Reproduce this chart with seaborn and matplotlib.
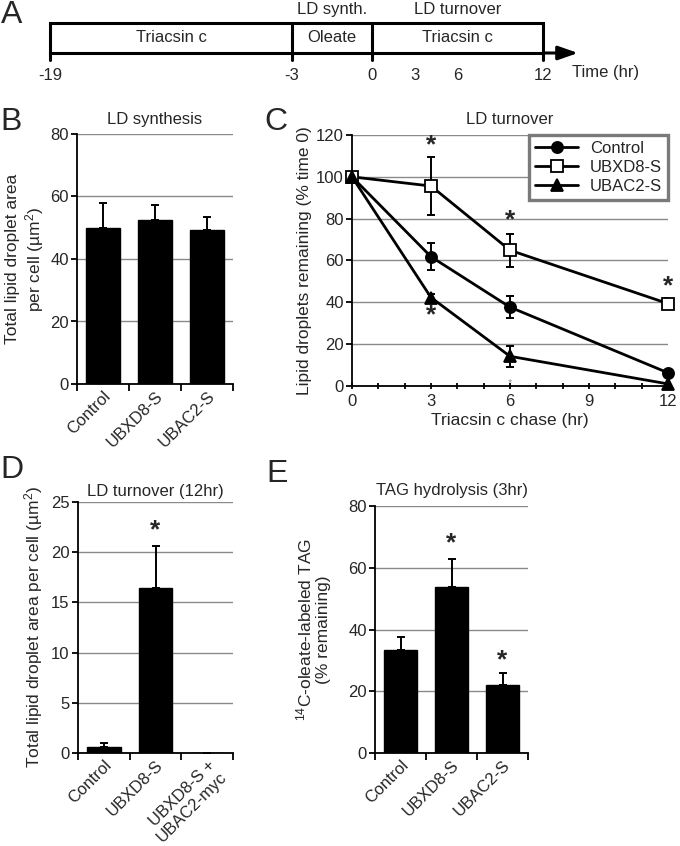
import numpy as np
import pandas as pd
import matplotlib
matplotlib.use("Agg")
import matplotlib.pyplot as plt
from matplotlib.lines import Line2D
import seaborn as sns

sns.set_theme(style="white")
plt.rcParams["font.family"] = ["Liberation Sans", "DejaVu Sans"]
plt.rcParams["mathtext.fontset"] = "custom"
plt.rcParams["mathtext.rm"] = "Liberation Sans"
plt.rcParams["mathtext.it"] = "Liberation Sans:italic"

# ---------------- data ----------------
# Panel A timeline
seg_start = [-19, -3, 0]
seg_end = [-3, 0, 12]
seg_labels = ["Triacsin c", "Oleate", "Triacsin c"]
phase_labels = ["LD synth.", "LD turnover"]
phase_start = [-3, 0]
phase_end = [0, 12]
time_ticks = [-19, -3, 0, 3, 6, 12]

# Panel B
b_groups = ["Control", "UBXD8-S", "UBAC2-S"]
b_values = [50.0, 52.5, 49.3]
b_err = [8.0, 4.8, 4.0]

# Panel C
c_time = [0, 3, 6, 12]
c_control = [100, 61.8, 37.7, 6.3]
c_control_err = [0, 6.5, 5.2, 1.0]
c_ubxd8 = [100, 95.6, 64.9, 39.4]
c_ubxd8_err = [0, 14.0, 7.8, 2.5]
c_ubac2 = [100, 42.3, 14.2, 1.0]
c_ubac2_err = [0, 1.5, 5.0, 0.5]
c_star_x = [3, 6, 12, 3]
c_star_y = [115, 79, 47.5, 34]

# Panel D
d_groups = ["Control", "UBXD8-S", "UBXD8-S +\nUBAC2-myc"]
d_values = [0.6, 16.45, 0.0]
d_err = [0.4, 4.15, 0.0]
d_star_x = [1]
d_star_y = [22.2]

# Panel E
e_groups = ["Control", "UBXD8-S", "UBAC2-S"]
e_values = [33.4, 53.9, 22.1]
e_err = [4.1, 9.0, 3.8]
e_star_x = [1, 2]
e_star_y = [68.0, 30.0]

# ---------------- layout ----------------
W, H = 680, 846
fig = plt.figure(figsize=(W / 100, H / 100), dpi=100)


def axes_px(left, top, right, bottom):
    return fig.add_axes([left / W, 1 - bottom / H, (right - left) / W, (bottom - top) / H])


FS = 12
TICK_FS = 12
LAB_FS = 12.5
LW_SPINE = 1.3
GRID_C = "#8a8a8a"
STAR_FS = 19

# ---- Panel A ----
t_anchor = [-19, -3, 0, 12, 14.46]
p_anchor = [0, 242, 322, 493, 528]


def fwd(t):
    return np.interp(t, t_anchor, p_anchor)


def inv(p):
    return np.interp(p, p_anchor, t_anchor)


axA = axes_px(50, 23, 578, 53)
axA.set_xscale("function", functions=(fwd, inv))
axA.set_xlim(-19, 14.46)
axA.set_ylim(0, 1)
for s in axA.spines.values():
    s.set_visible(False)
axA.set_yticks([])
lw_box = 2.2
axA.plot([seg_start[0], seg_end[-1]], [1, 1], color="black", lw=lw_box, clip_on=False, solid_capstyle="projecting")
axA.plot([seg_start[0], seg_end[-1]], [0, 0], color="black", lw=lw_box, clip_on=False, solid_capstyle="projecting")
bounds = sorted(set(seg_start + seg_end))
for b in bounds:
    axA.plot([b, b], [-0.25, 1], color="black", lw=lw_box, clip_on=False)
for s0, s1, lab in zip(seg_start, seg_end, seg_labels):
    xm = inv((fwd(s0) + fwd(s1)) / 2)
    axA.text(xm, 0.5, lab, ha="center", va="center", fontsize=FS)
for s0, s1, lab in zip(phase_start, phase_end, phase_labels):
    xm = inv((fwd(s0) + fwd(s1)) / 2)
    axA.text(xm, 1.45, lab, ha="center", va="center", fontsize=FS)
axA.annotate("", xy=(14.46, 0), xytext=(12, 0),
             arrowprops=dict(arrowstyle="-|>,head_length=1.0,head_width=0.35", color="black", lw=lw_box,
                             shrinkA=0, shrinkB=0), annotation_clip=False)
axA.set_xticks(time_ticks)
axA.set_xticklabels([str(t) for t in time_ticks], fontsize=FS)
axA.tick_params(axis="x", length=0, pad=11)
axA.minorticks_off()
fig.text(606 / W, 1 - 72 / H, "Time (hr)", ha="center", va="center", fontsize=FS)


def style_bar_axes(ax, ymax, ystep):
    ax.set_ylim(0, ymax)
    ax.set_yticks(np.arange(0, ymax + 0.01, ystep))
    ax.yaxis.grid(True, color=GRID_C, lw=1.0)
    ax.xaxis.grid(False)
    ax.set_axisbelow(True)
    for side in ["top", "right"]:
        ax.spines[side].set_visible(False)
    for side in ["left", "bottom"]:
        ax.spines[side].set_color("black")
        ax.spines[side].set_linewidth(LW_SPINE)
    ax.tick_params(axis="y", which="major", direction="out", length=4, width=LW_SPINE,
                   color="black", labelsize=TICK_FS, pad=2, left=True)
    ax.set_xlim(-0.5, 2.5)
    ax.set_xticks([-0.5, 0.5, 1.5, 2.5], minor=True)
    ax.tick_params(axis="x", which="minor", direction="out", length=5, width=LW_SPINE, color="black", bottom=True)
    ax.tick_params(axis="x", which="major", length=0, labelsize=FS, pad=3)
    ax.set_xlabel("")


def bar_panel(ax, groups, values, errs, ymax, ystep):
    df = pd.DataFrame({"group": groups, "value": values})
    sns.barplot(data=df, x="group", y="value", color="black", width=0.65, ax=ax,
                errorbar=None, saturation=1, edgecolor="black")
    ax.errorbar(np.arange(len(values)), values, yerr=[np.zeros(len(errs)), errs], fmt="none",
                ecolor="black", elinewidth=1.4, capsize=3, capthick=1.4, zorder=5)
    style_bar_axes(ax, ymax, ystep)
    ax.set_xticks(np.arange(len(groups)))
    ax.set_xticklabels(groups, rotation=45, ha="right", rotation_mode="anchor", fontsize=FS)


def star(ax, x, y):
    ax.text(x, y, "*", ha="center", va="center", fontsize=STAR_FS, fontweight="bold")


# ---- Panel B ----
axB = axes_px(77, 134, 233, 384)
bar_panel(axB, b_groups, b_values, b_err, 80, 20)
axB.set_title("LD synthesis", fontsize=FS, pad=7)
axB.set_ylabel("Total lipid droplet area\nper cell (µm$^2$)", fontsize=LAB_FS, labelpad=3)

# ---- Panel C ----
axC = axes_px(352, 135, 668, 386)
series = [
    ("Control", c_control, c_control_err, "o", "black", 8),
    ("UBXD8-S", c_ubxd8, c_ubxd8_err, "s", "white", 9),
    ("UBAC2-S", c_ubac2, c_ubac2_err, "^", "black", 8),
]
handles = []
for name, vals, errs, mk, mfc, ms in series:
    axC.errorbar(c_time, vals, yerr=errs, fmt="none", ecolor="black", elinewidth=1.4,
                 capsize=3, capthick=1.4, zorder=3)
    dfc = pd.DataFrame({"t": c_time, "v": vals})
    sns.lineplot(data=dfc, x="t", y="v", ax=axC, color="black", lw=2.0, marker=mk,
                 markersize=ms, markerfacecolor=mfc, markeredgecolor="black",
                 markeredgewidth=1.3, zorder=4, clip_on=False)
    handles.append(Line2D([], [], color="black", lw=2.0, marker=mk, markersize=ms,
                          markerfacecolor=mfc, markeredgecolor="black", markeredgewidth=1.3, label=name))
axC.set_xlim(0, 12)
axC.set_ylim(0, 120)
axC.set_yticks(np.arange(0, 121, 20))
axC.set_xticks([0, 3, 6, 9, 12])
axC.set_xticks(np.arange(0, 13, 1), minor=True)
axC.yaxis.grid(True, color=GRID_C, lw=1.0)
axC.xaxis.grid(False)
axC.set_axisbelow(True)
for side in ["top", "right"]:
    axC.spines[side].set_visible(False)
for side in ["left", "bottom"]:
    axC.spines[side].set_color("black")
    axC.spines[side].set_linewidth(LW_SPINE)
axC.tick_params(axis="y", direction="out", length=4, width=LW_SPINE, color="black", labelsize=TICK_FS, pad=2, left=True)
axC.tick_params(axis="x", which="both", direction="inout", length=5, width=LW_SPINE, color="black",
                labelsize=TICK_FS, pad=3, bottom=True)
axC.set_xlabel("Triacsin c chase (hr)", fontsize=LAB_FS, labelpad=3)
axC.set_ylabel("Lipid droplets remaining (% time 0)", fontsize=LAB_FS, labelpad=3)
axC.set_title("LD turnover", fontsize=FS, pad=8)
for x, y in zip(c_star_x, c_star_y):
    star(axC, x, y)
axC.text(6, 1.2, "*", ha="center", va="center", fontsize=8, color="#999999")
leg = axC.legend(handles=handles, loc="upper right", bbox_to_anchor=(1.0, 1.0), fontsize=12,
                 frameon=True, fancybox=False, handlelength=2.6, borderpad=0.35, labelspacing=0.25,
                 handletextpad=0.7, borderaxespad=0.0)
leg.get_frame().set_edgecolor("#7a7a7a")
leg.get_frame().set_linewidth(2.4)
leg.get_frame().set_facecolor("white")
leg.get_frame().set_alpha(1)

# ---- Panel D ----
axD = axes_px(78, 502, 233, 753)
bar_panel(axD, d_groups, d_values, d_err, 25, 5)
axD.set_title("LD turnover (12hr)", fontsize=FS, pad=4)
axD.set_ylabel("Total lipid droplet area per cell (µm$^2$)", fontsize=LAB_FS, labelpad=4)
for x, y in zip(d_star_x, d_star_y):
    star(axD, x, y)

# ---- Panel E ----
axE = axes_px(375, 506, 528, 753)
bar_panel(axE, e_groups, e_values, e_err, 80, 20)
axE.set_title("TAG hydrolysis (3hr)", fontsize=FS, pad=8)
axE.set_ylabel("$^{14}$C-oleate-labeled TAG\n(% remaining)", fontsize=LAB_FS, labelpad=12)
for x, y in zip(e_star_x, e_star_y):
    star(axE, x, y)

# panel letters
letters = ["A", "B", "C", "D", "E"]
letter_pos = [(12, 15), (11, 122), (276, 122), (12, 470), (277, 474)]
for lab, (x, y) in zip(letters, letter_pos):
    fig.text(x / W, 1 - y / H, lab, ha="center", va="center", fontsize=23)

fig.savefig("out.png", dpi=100)
